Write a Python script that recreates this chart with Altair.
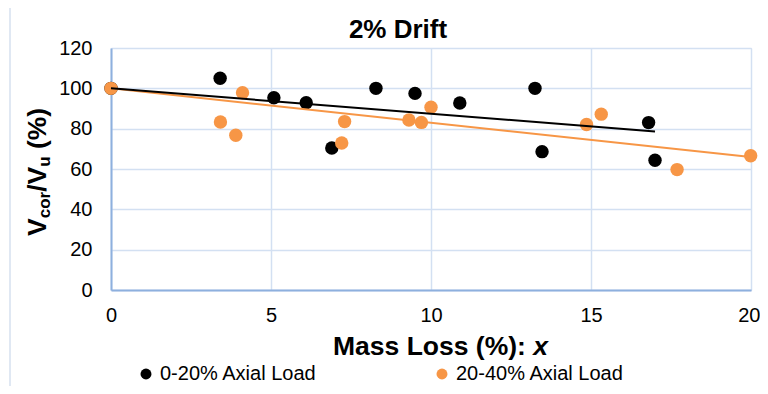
import altair as alt
import pandas as pd
import numpy as np

# ---------------- data ----------------
series = ["0-20% Axial Load", "20-40% Axial Load"]
colors = ["#000000", "#F79646"]

black_x = [0, 3.41, 5.09, 6.10, 6.90, 8.28, 9.50, 10.90, 13.25, 13.47, 16.80, 17.00]
black_y = [100, 105.0, 95.3, 92.9, 70.4, 100.0, 97.5, 92.7, 100.0, 68.6, 83.0, 64.3]

orange_x = [0, 3.42, 4.11, 3.90, 7.21, 7.30, 9.31, 9.70, 10.00, 14.86, 15.32, 17.69, 19.99]
orange_y = [100, 83.3, 97.8, 76.7, 72.9, 83.5, 84.3, 83.1, 90.6, 82.1, 87.2, 59.7, 66.6]

x_ticks = [0, 5, 10, 15, 20]
y_ticks = [0, 20, 40, 60, 80, 100, 120]

chart_title = "2% Drift"
x_title_main = "Mass Loss (%): "
x_title_var = "x"
y_title_parts = ["V", "cor", "/V", "u", "(%)"]

FONT = "Liberation Sans"

# ---------------- tables ----------------
pts = pd.DataFrame({
    "x": black_x + orange_x,
    "y": black_y + orange_y,
    "s": [series[0]] * len(black_x) + [series[1]] * len(orange_x),
})

# linear trendlines with intercept fixed at 100 (as in the spreadsheet)
rows = []
for name, xs, ys in [(series[1], orange_x, orange_y), (series[0], black_x, black_y)]:
    xa, ya = np.array(xs), np.array(ys)
    slope = np.sum(xa * (ya - 100)) / np.sum(xa * xa)
    xmax = float(xa.max())
    rows.append({"x": 0.0, "y": 100.0, "s": name})
    rows.append({"x": xmax, "y": 100.0 + slope * xmax, "s": name})
trend = pd.DataFrame(rows)

# ---------------- layout ----------------
W, H = 640, 242
GRID = "#D3E0F2"
AXIS = "#8EB0DE"

xscale = alt.Scale(domain=[0, 20], nice=False, zero=False)
yscale = alt.Scale(domain=[0, 120], nice=False, zero=False)

last_x = x_ticks[-1]
xaxis = alt.Axis(values=x_ticks, title=None, grid=True, gridColor=GRID, gridWidth=1.5,
                 domainColor=AXIS, domainWidth=2, ticks=False, labelFont=FONT,
                 labelFontSize=20, labelColor="black", labelPadding=15, labelFlush=False,
                 format="d",
                 labelAlign={"condition": {"test": f"datum.value == {last_x}", "value": "right"},
                             "value": "center"},
                 labelOffset={"condition": {"test": f"datum.value == {last_x}", "value": 9},
                              "value": 0})
yaxis = alt.Axis(values=y_ticks, title=None, grid=True, gridColor=GRID, gridWidth=1.5,
                 domainColor=AXIS, domainWidth=2, ticks=False, labelFont=FONT,
                 labelFontSize=20, labelColor="black", labelPadding=19, format="d")

points = alt.Chart(pts).mark_circle(size=180, opacity=1).encode(
    x=alt.X("x:Q", scale=xscale, axis=xaxis),
    y=alt.Y("y:Q", scale=yscale, axis=yaxis),
    color=alt.Color("s:N", scale=alt.Scale(domain=series, range=colors),
                    legend=alt.Legend(title=None, orient="none", legendX=25, legendY=316,
                                      direction="horizontal", symbolType="circle",
                                      symbolSize=120, symbolStrokeWidth=0,
                                      labelFont=FONT, labelFontSize=20, labelColor="black",
                                      labelLimit=400, columnPadding=115, labelOffset=4,
                                      padding=0)),
)

lines = alt.Chart(trend).mark_line(strokeWidth=2).encode(
    x=alt.X("x:Q", scale=xscale),
    y=alt.Y("y:Q", scale=yscale),
    detail="s:N",
    stroke=alt.Stroke("s:N", scale=alt.Scale(domain=series, range=colors), legend=None),
)

# outer chart border (left/top visible)
border = alt.Chart(pd.DataFrame({"k": [0]})).mark_rect(
    fill=None, stroke="#D6E1F0", strokeWidth=1.5
).encode(x=alt.value(-101), x2=alt.value(700), y=alt.value(-41), y2=alt.value(400))

# chart title
title = alt.Chart(pd.DataFrame({"t": [chart_title]})).mark_text(
    font=FONT, fontSize=26, fontWeight="bold", align="center", baseline="alphabetic", color="black"
).encode(text="t:N", x=alt.value(287), y=alt.value(-10))

# x axis title: "Mass Loss (%): " bold + "x" bold italic
XF = 26.5
main_w = 7.557 * XF
x_start = 222
xt1 = alt.Chart(pd.DataFrame({"t": [x_title_main]})).mark_text(
    font=FONT, fontSize=XF, fontWeight="bold", align="left", baseline="alphabetic", color="black"
).encode(text="t:N", x=alt.value(x_start), y=alt.value(307))
xt2 = alt.Chart(pd.DataFrame({"t": [x_title_var]})).mark_text(
    font=FONT, fontSize=XF, fontWeight="bold", fontStyle="italic", align="left",
    baseline="alphabetic", color="black"
).encode(text="t:N", x=alt.value(x_start + main_w), y=alt.value(307))

# y axis title with subscripts, rotated
YF = 26.5
YS = 17
em = {"V": 0.667, "cor": 1.556, "/V": 0.945, "u": 0.611 + 0.278 * YF / YS, "(%)": 1.555}
sizes = [YF, YS, YF, YS, YF]
y_pos = 188
base_x = -65
ylayers = []
for part, fs in zip(y_title_parts, sizes):
    shift = 4 if fs == YS else 0
    ylayers.append(
        alt.Chart(pd.DataFrame({"t": [part]})).mark_text(
            font=FONT, fontSize=fs, fontWeight="bold", align="left", baseline="alphabetic",
            angle=270, color="black"
        ).encode(text="t:N", x=alt.value(base_x + shift), y=alt.value(y_pos))
    )
    y_pos -= em[part] * fs

chart = alt.layer(border, points, lines, title, xt1, xt2, *ylayers).properties(
    width=W, height=H,
    autosize=alt.AutoSizeParams(type="none"),
    padding={"left": 103, "top": 40, "right": 9, "bottom": 96},
).configure_view(stroke=GRID, strokeWidth=1.5).configure(background="white")

chart.save("out.html", embed_options={"renderer": "svg", "actions": False})
